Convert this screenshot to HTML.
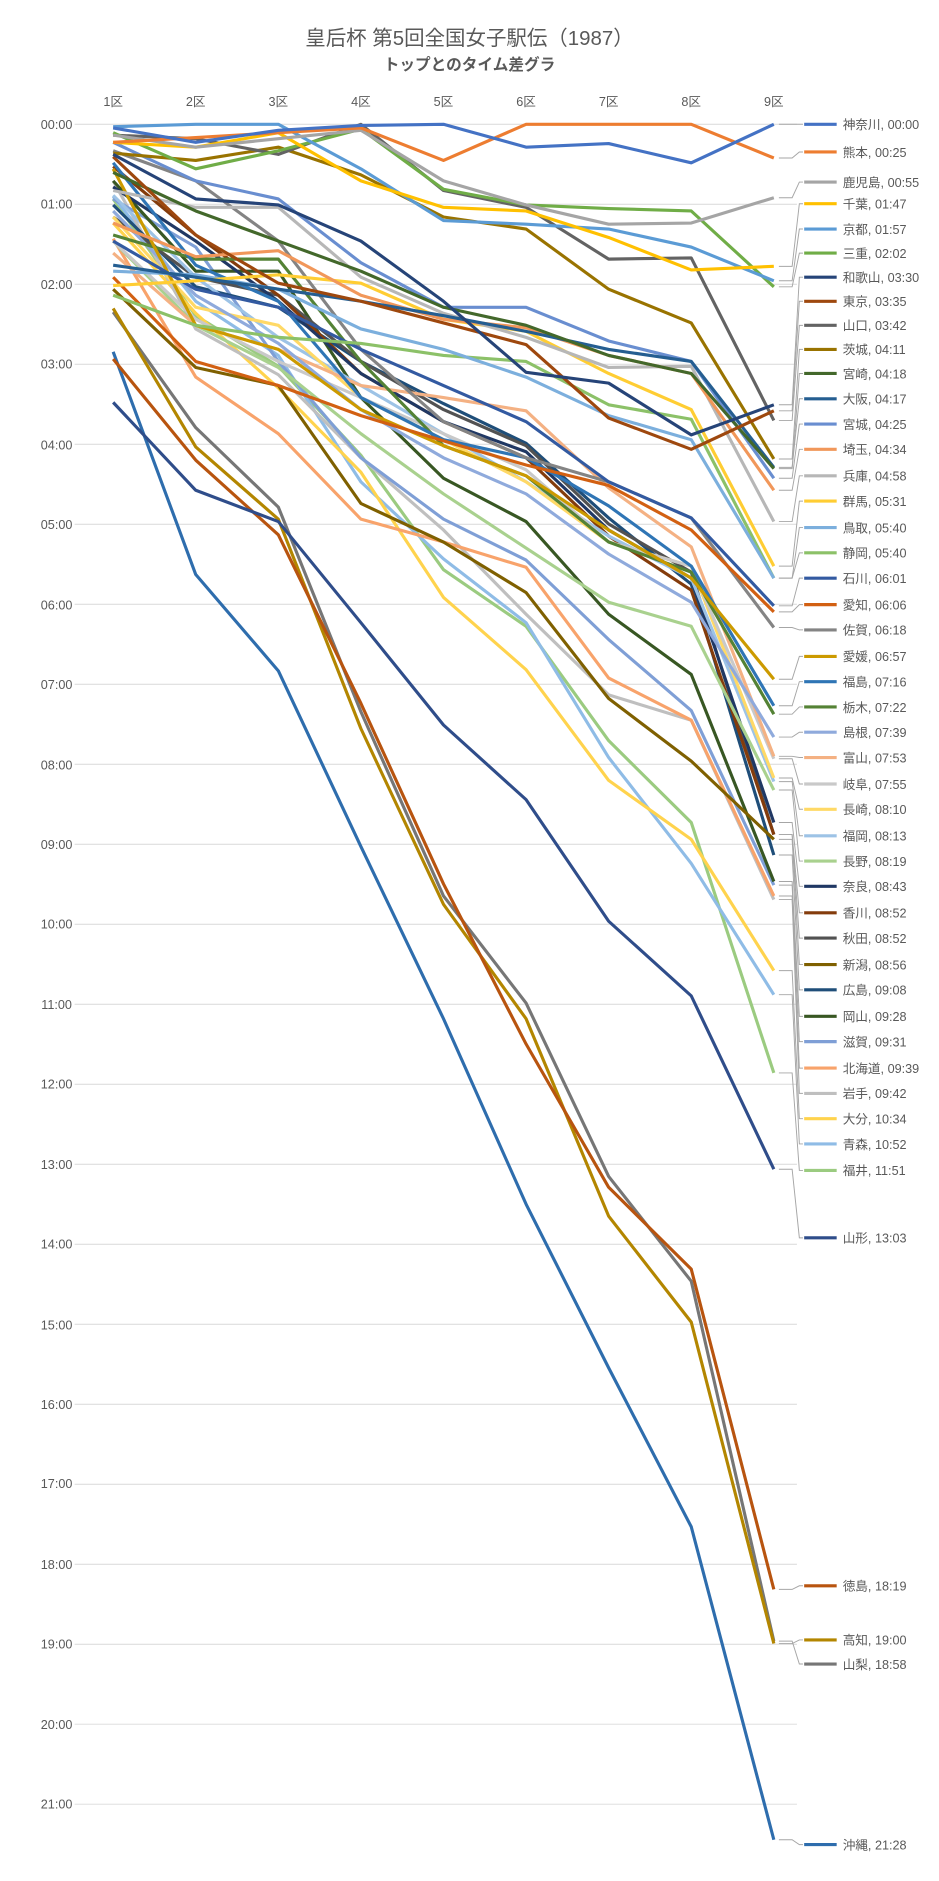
<!DOCTYPE html>
<html><head><meta charset="utf-8">
<style>
html,body{margin:0;padding:0;background:#fff;}
svg{display:block;}
text{font-family:"Liberation Sans","Noto Sans CJK JP",sans-serif;fill:#595959;}
</style></head>
<body>
<svg width="939" height="1881" viewBox="0 0 780 1562" xmlns="http://www.w3.org/2000/svg">
<rect width="780" height="1562" fill="#fff"/>
<text x="390" y="37" font-size="17" text-anchor="middle">皇后杯 第5回全国女子駅伝（1987）</text>
<text x="390" y="58" font-size="13" font-weight="bold" text-anchor="middle">トップとのタイム差グラ</text>
<g stroke="#d9d9d9" stroke-width="0.8">
<line x1="62" x2="662" y1="103" y2="103"/><line x1="62" x2="662" y1="169.45" y2="169.45"/><line x1="62" x2="662" y1="235.9" y2="235.9"/><line x1="62" x2="662" y1="302.35" y2="302.35"/><line x1="62" x2="662" y1="368.8" y2="368.8"/><line x1="62" x2="662" y1="435.25" y2="435.25"/><line x1="62" x2="662" y1="501.7" y2="501.7"/><line x1="62" x2="662" y1="568.15" y2="568.15"/><line x1="62" x2="662" y1="634.6" y2="634.6"/><line x1="62" x2="662" y1="701.05" y2="701.05"/><line x1="62" x2="662" y1="767.5" y2="767.5"/><line x1="62" x2="662" y1="833.95" y2="833.95"/><line x1="62" x2="662" y1="900.4" y2="900.4"/><line x1="62" x2="662" y1="966.85" y2="966.85"/><line x1="62" x2="662" y1="1033.3" y2="1033.3"/><line x1="62" x2="662" y1="1099.75" y2="1099.75"/><line x1="62" x2="662" y1="1166.2" y2="1166.2"/><line x1="62" x2="662" y1="1232.65" y2="1232.65"/><line x1="62" x2="662" y1="1299.1" y2="1299.1"/><line x1="62" x2="662" y1="1365.55" y2="1365.55"/><line x1="62" x2="662" y1="1432" y2="1432"/><line x1="62" x2="662" y1="1498.45" y2="1498.45"/>
</g>
<g font-size="10.5" text-anchor="middle">
<text x="94" y="88">1区</text><text x="162.6" y="88">2区</text><text x="231.2" y="88">3区</text><text x="299.8" y="88">4区</text><text x="368.4" y="88">5区</text><text x="437" y="88">6区</text><text x="505.6" y="88">7区</text><text x="574.2" y="88">8区</text><text x="642.8" y="88">9区</text>
</g>
<g font-size="10.5" text-anchor="middle">
<text x="47" y="107">00:00</text><text x="47" y="173">01:00</text><text x="47" y="240">02:00</text><text x="47" y="306">03:00</text><text x="47" y="373">04:00</text><text x="47" y="439">05:00</text><text x="47" y="506">06:00</text><text x="47" y="572">07:00</text><text x="47" y="639">08:00</text><text x="47" y="705">09:00</text><text x="47" y="771">10:00</text><text x="47" y="838">11:00</text><text x="47" y="904">12:00</text><text x="47" y="971">13:00</text><text x="47" y="1037">14:00</text><text x="47" y="1104">15:00</text><text x="47" y="1170">16:00</text><text x="47" y="1236">17:00</text><text x="47" y="1303">18:00</text><text x="47" y="1369">19:00</text><text x="47" y="1436">20:00</text><text x="47" y="1502">21:00</text>
</g>
<g fill="none" stroke-width="2.6" stroke-linejoin="round">
<polyline stroke="#2E6DAD" points="94,292 162.6,477 231.2,557 299.8,703 368.4,846 437,1000 505.6,1136 574.2,1268 642.8,1528"/>
<polyline stroke="#767676" points="94,259 162.6,355 231.2,421 299.8,591 368.4,744 437,833 505.6,977 574.2,1064 642.8,1363"/>
<polyline stroke="#B38600" points="94,256 162.6,371 231.2,431 299.8,605 368.4,751 437,846 505.6,1010 574.2,1098 642.8,1365"/>
<polyline stroke="#B8540F" points="94,298 162.6,382 231.2,444 299.8,584 368.4,734 437,867 505.6,986 574.2,1054 642.8,1320"/>
<polyline stroke="#2F4D8A" points="94,334 162.6,407 231.2,433 299.8,517 368.4,602 437,664 505.6,765 574.2,827 642.8,971"/>
<polyline stroke="#9BCB80" points="94,165 162.6,262 231.2,304 299.8,378 368.4,473 437,520 505.6,615 574.2,683 642.8,891"/>
<polyline stroke="#8FBCE6" points="94,163 162.6,250 231.2,295 299.8,400 368.4,464 437,517 505.6,629 574.2,717 642.8,826"/>
<polyline stroke="#FFD34D" points="94,185 162.6,260 231.2,322 299.8,392 368.4,496 437,556 505.6,648 574.2,697 642.8,806"/>
<polyline stroke="#BFBFBF" points="94,150 162.6,273 231.2,311 299.8,380 368.4,440 437,510 505.6,577 574.2,598 642.8,747"/>
<polyline stroke="#F8A36B" points="94,198 162.6,313 231.2,360 299.8,431 368.4,450 437,471 505.6,563 574.2,598 642.8,744"/>
<polyline stroke="#7F9FD6" points="94,165 162.6,205 231.2,300 299.8,380 368.4,431 437,465 505.6,531 574.2,590 642.8,735"/>
<polyline stroke="#385723" points="94,150 162.6,225 231.2,225 299.8,330 368.4,397 437,433 505.6,510 574.2,560 642.8,732"/>
<polyline stroke="#1F4E79" points="94,170 162.6,238 231.2,255 299.8,300 368.4,335 437,368 505.6,430 574.2,485 642.8,710"/>
<polyline stroke="#7F6000" points="94,240 162.6,305 231.2,320 299.8,418 368.4,450 437,492 505.6,580 574.2,632 642.8,697"/>
<polyline stroke="#525252" points="94,180 162.6,230 231.2,245 299.8,300 368.4,340 437,370 505.6,435 574.2,475 642.8,693"/>
<polyline stroke="#843C0C" points="94,138 162.6,195 231.2,245 299.8,310 368.4,350 437,380 505.6,445 574.2,490 642.8,693"/>
<polyline stroke="#203864" points="94,155 162.6,200 231.2,250 299.8,310 368.4,350 437,375 505.6,440 574.2,480 642.8,683"/>
<polyline stroke="#A9D18E" points="94,200 162.6,270 231.2,305 299.8,360 368.4,410 437,455 505.6,500 574.2,520 642.8,656"/>
<polyline stroke="#9DC3E6" points="94,162 162.6,230 231.2,280 299.8,320 368.4,360 437,400 505.6,445 574.2,480 642.8,649"/>
<polyline stroke="#FFD966" points="94,180 162.6,255 231.2,270 299.8,330 368.4,365 437,400 505.6,450 574.2,470 642.8,646"/>
<polyline stroke="#C9C9C9" points="94,200 162.6,265 231.2,300 299.8,330 368.4,360 437,390 505.6,450 574.2,470 642.8,630"/>
<polyline stroke="#F4B183" points="94,210 162.6,270 231.2,290 299.8,320 368.4,330 437,341 505.6,405 574.2,454 642.8,628"/>
<polyline stroke="#8FAADC" points="94,175 162.6,245 231.2,285 299.8,340 368.4,380 437,410 505.6,460 574.2,500 642.8,612"/>
<polyline stroke="#548235" points="94,195 162.6,215 231.2,215 299.8,300 368.4,370 437,395 505.6,450 574.2,475 642.8,593"/>
<polyline stroke="#2F75B5" points="94,135 162.6,220 231.2,250 299.8,330 368.4,365 437,380 505.6,420 574.2,470 642.8,586"/>
<polyline stroke="#CC9A00" points="94,140 162.6,270 231.2,290 299.8,340 368.4,370 437,395 505.6,440 574.2,480 642.8,564"/>
<polyline stroke="#848484" points="94,125 162.6,150 231.2,200 299.8,290 368.4,350 437,380 505.6,400 574.2,430 642.8,521"/>
<polyline stroke="#D26012" points="94,230 162.6,300 231.2,320 299.8,345 368.4,366 437,386 505.6,403 574.2,440 642.8,508"/>
<polyline stroke="#335AA1" points="94,200 162.6,240 231.2,255 299.8,290 368.4,320 437,350 505.6,400 574.2,430 642.8,503"/>
<polyline stroke="#8CC168" points="94,245 162.6,270 231.2,280 299.8,285 368.4,295 437,300 505.6,336 574.2,348 642.8,480"/>
<polyline stroke="#7CAFDD" points="94,225 162.6,228 231.2,240 299.8,273 368.4,290 437,313 505.6,345 574.2,365 642.8,480"/>
<polyline stroke="#FFCD33" points="94,237 162.6,233 231.2,228 299.8,235 368.4,265 437,275 505.6,310 574.2,340 642.8,470"/>
<polyline stroke="#B7B7B7" points="94,158 162.6,172 231.2,172 299.8,230 368.4,260 437,280 505.6,305 574.2,304 642.8,433"/>
<polyline stroke="#F1975A" points="94,185 162.6,213 231.2,208 299.8,245 368.4,265 437,272 505.6,295 574.2,310 642.8,407"/>
<polyline stroke="#698ED0" points="94,118 162.6,150 231.2,165 299.8,218 368.4,255 437,255 505.6,283 574.2,300 642.8,397"/>
<polyline stroke="#255E91" points="94,220 162.6,230 231.2,240 299.8,250 368.4,262 437,275 505.6,290 574.2,300 642.8,388"/>
<polyline stroke="#43682B" points="94,143 162.6,175 231.2,200 299.8,225 368.4,255 437,270 505.6,295 574.2,310 642.8,389"/>
<polyline stroke="#997300" points="94,127 162.6,133 231.2,122 299.8,145 368.4,180 437,190 505.6,240 574.2,268 642.8,381"/>
<polyline stroke="#636363" points="94,112 162.6,115 231.2,128 299.8,103 368.4,158 437,172 505.6,215 574.2,214 642.8,349"/>
<polyline stroke="#9E480E" points="94,130 162.6,195 231.2,235 299.8,250 368.4,268 437,286 505.6,347 574.2,373 642.8,341"/>
<polyline stroke="#264478" points="94,128 162.6,165 231.2,170 299.8,200 368.4,250 437,309 505.6,318 574.2,361 642.8,336"/>
<polyline stroke="#70AD47" points="94,110 162.6,140 231.2,125 299.8,107 368.4,157 437,170 505.6,173 574.2,175 642.8,238"/>
<polyline stroke="#5B9BD5" points="94,105 162.6,103 231.2,103 299.8,140 368.4,183 437,186 505.6,190 574.2,205 642.8,233"/>
<polyline stroke="#FFC000" points="94,118 162.6,122 231.2,110 299.8,150 368.4,172 437,175 505.6,197 574.2,224 642.8,221"/>
<polyline stroke="#A5A5A5" points="94,112 162.6,122 231.2,115 299.8,108 368.4,150 437,170 505.6,186 574.2,185 642.8,164"/>
<polyline stroke="#ED7D31" points="94,118 162.6,114 231.2,110 299.8,106 368.4,133 437,103 505.6,103 574.2,103 642.8,131"/>
<polyline stroke="#4472C4" points="94,106 162.6,118 231.2,108 299.8,104 368.4,103 437,122 505.6,119 574.2,135 642.8,103"/>
</g>
<g fill="none" stroke="#a6a6a6" stroke-width="0.8">
<polyline points="647,103 658,103 664,103 667,103"/>
<polyline points="647,131 658,131 664,126 667,126"/>
<polyline points="647,164 658,164 664,151 667,151"/>
<polyline points="647,221 658,221 664,169 667,169"/>
<polyline points="647,233 658,233 664,190 667,190"/>
<polyline points="647,238 658,238 664,210 667,210"/>
<polyline points="647,336 658,336 664,230 667,230"/>
<polyline points="647,341 658,341 664,250 667,250"/>
<polyline points="647,349 658,349 664,270 667,270"/>
<polyline points="647,381 658,381 664,290 667,290"/>
<polyline points="647,389 658,389 664,310 667,310"/>
<polyline points="647,388 658,388 664,331 667,331"/>
<polyline points="647,397 658,397 664,352 667,352"/>
<polyline points="647,407 658,407 664,373 667,373"/>
<polyline points="647,433 658,433 664,395 667,395"/>
<polyline points="647,470 658,470 664,416 667,416"/>
<polyline points="647,480 658,480 664,438 667,438"/>
<polyline points="647,480 658,480 664,459 667,459"/>
<polyline points="647,503 658,503 664,480 667,480"/>
<polyline points="647,508 658,508 664,502 667,502"/>
<polyline points="647,521 658,521 664,523 667,523"/>
<polyline points="647,564 658,564 664,545 667,545"/>
<polyline points="647,586 658,586 664,566 667,566"/>
<polyline points="647,593 658,593 664,587 667,587"/>
<polyline points="647,612 658,612 664,608 667,608"/>
<polyline points="647,628 658,628 664,629 667,629"/>
<polyline points="647,630 658,630 664,651 667,651"/>
<polyline points="647,646 658,646 664,672 667,672"/>
<polyline points="647,649 658,649 664,694 667,694"/>
<polyline points="647,656 658,656 664,715 667,715"/>
<polyline points="647,683 658,683 664,736 667,736"/>
<polyline points="647,693 658,693 664,758 667,758"/>
<polyline points="647,693 658,693 664,779 667,779"/>
<polyline points="647,697 658,697 664,801 667,801"/>
<polyline points="647,710 658,710 664,822 667,822"/>
<polyline points="647,732 658,732 664,844 667,844"/>
<polyline points="647,735 658,735 664,865 667,865"/>
<polyline points="647,744 658,744 664,887 667,887"/>
<polyline points="647,747 658,747 664,908 667,908"/>
<polyline points="647,806 658,806 664,929 667,929"/>
<polyline points="647,826 658,826 664,950 667,950"/>
<polyline points="647,891 658,891 664,972 667,972"/>
<polyline points="647,971 658,971 664,1028 667,1028"/>
<polyline points="647,1320 658,1320 664,1317 667,1317"/>
<polyline points="647,1365 658,1365 664,1362 667,1362"/>
<polyline points="647,1363 658,1363 664,1382 667,1382"/>
<polyline points="647,1528 658,1528 664,1532 667,1532"/>
</g>
<g stroke-width="2.6">
<line x1="668" x2="695" y1="103" y2="103" stroke="#4472C4"/>
<line x1="668" x2="695" y1="126" y2="126" stroke="#ED7D31"/>
<line x1="668" x2="695" y1="151" y2="151" stroke="#A5A5A5"/>
<line x1="668" x2="695" y1="169" y2="169" stroke="#FFC000"/>
<line x1="668" x2="695" y1="190" y2="190" stroke="#5B9BD5"/>
<line x1="668" x2="695" y1="210" y2="210" stroke="#70AD47"/>
<line x1="668" x2="695" y1="230" y2="230" stroke="#264478"/>
<line x1="668" x2="695" y1="250" y2="250" stroke="#9E480E"/>
<line x1="668" x2="695" y1="270" y2="270" stroke="#636363"/>
<line x1="668" x2="695" y1="290" y2="290" stroke="#997300"/>
<line x1="668" x2="695" y1="310" y2="310" stroke="#43682B"/>
<line x1="668" x2="695" y1="331" y2="331" stroke="#255E91"/>
<line x1="668" x2="695" y1="352" y2="352" stroke="#698ED0"/>
<line x1="668" x2="695" y1="373" y2="373" stroke="#F1975A"/>
<line x1="668" x2="695" y1="395" y2="395" stroke="#B7B7B7"/>
<line x1="668" x2="695" y1="416" y2="416" stroke="#FFCD33"/>
<line x1="668" x2="695" y1="438" y2="438" stroke="#7CAFDD"/>
<line x1="668" x2="695" y1="459" y2="459" stroke="#8CC168"/>
<line x1="668" x2="695" y1="480" y2="480" stroke="#335AA1"/>
<line x1="668" x2="695" y1="502" y2="502" stroke="#D26012"/>
<line x1="668" x2="695" y1="523" y2="523" stroke="#848484"/>
<line x1="668" x2="695" y1="545" y2="545" stroke="#CC9A00"/>
<line x1="668" x2="695" y1="566" y2="566" stroke="#2F75B5"/>
<line x1="668" x2="695" y1="587" y2="587" stroke="#548235"/>
<line x1="668" x2="695" y1="608" y2="608" stroke="#8FAADC"/>
<line x1="668" x2="695" y1="629" y2="629" stroke="#F4B183"/>
<line x1="668" x2="695" y1="651" y2="651" stroke="#C9C9C9"/>
<line x1="668" x2="695" y1="672" y2="672" stroke="#FFD966"/>
<line x1="668" x2="695" y1="694" y2="694" stroke="#9DC3E6"/>
<line x1="668" x2="695" y1="715" y2="715" stroke="#A9D18E"/>
<line x1="668" x2="695" y1="736" y2="736" stroke="#203864"/>
<line x1="668" x2="695" y1="758" y2="758" stroke="#843C0C"/>
<line x1="668" x2="695" y1="779" y2="779" stroke="#525252"/>
<line x1="668" x2="695" y1="801" y2="801" stroke="#7F6000"/>
<line x1="668" x2="695" y1="822" y2="822" stroke="#1F4E79"/>
<line x1="668" x2="695" y1="844" y2="844" stroke="#385723"/>
<line x1="668" x2="695" y1="865" y2="865" stroke="#7F9FD6"/>
<line x1="668" x2="695" y1="887" y2="887" stroke="#F8A36B"/>
<line x1="668" x2="695" y1="908" y2="908" stroke="#BFBFBF"/>
<line x1="668" x2="695" y1="929" y2="929" stroke="#FFD34D"/>
<line x1="668" x2="695" y1="950" y2="950" stroke="#8FBCE6"/>
<line x1="668" x2="695" y1="972" y2="972" stroke="#9BCB80"/>
<line x1="668" x2="695" y1="1028" y2="1028" stroke="#2F4D8A"/>
<line x1="668" x2="695" y1="1317" y2="1317" stroke="#B8540F"/>
<line x1="668" x2="695" y1="1362" y2="1362" stroke="#B38600"/>
<line x1="668" x2="695" y1="1382" y2="1382" stroke="#767676"/>
<line x1="668" x2="695" y1="1532" y2="1532" stroke="#2E6DAD"/>
</g>
<g font-size="10.5">
<text x="700" y="107">神奈川, 00:00</text>
<text x="700" y="130">熊本, 00:25</text>
<text x="700" y="155">鹿児島, 00:55</text>
<text x="700" y="173">千葉, 01:47</text>
<text x="700" y="194">京都, 01:57</text>
<text x="700" y="214">三重, 02:02</text>
<text x="700" y="234">和歌山, 03:30</text>
<text x="700" y="254">東京, 03:35</text>
<text x="700" y="274">山口, 03:42</text>
<text x="700" y="294">茨城, 04:11</text>
<text x="700" y="314">宮崎, 04:18</text>
<text x="700" y="335">大阪, 04:17</text>
<text x="700" y="356">宮城, 04:25</text>
<text x="700" y="377">埼玉, 04:34</text>
<text x="700" y="399">兵庫, 04:58</text>
<text x="700" y="420">群馬, 05:31</text>
<text x="700" y="442">鳥取, 05:40</text>
<text x="700" y="463">静岡, 05:40</text>
<text x="700" y="484">石川, 06:01</text>
<text x="700" y="506">愛知, 06:06</text>
<text x="700" y="527">佐賀, 06:18</text>
<text x="700" y="549">愛媛, 06:57</text>
<text x="700" y="570">福島, 07:16</text>
<text x="700" y="591">栃木, 07:22</text>
<text x="700" y="612">島根, 07:39</text>
<text x="700" y="633">富山, 07:53</text>
<text x="700" y="655">岐阜, 07:55</text>
<text x="700" y="676">長崎, 08:10</text>
<text x="700" y="698">福岡, 08:13</text>
<text x="700" y="719">長野, 08:19</text>
<text x="700" y="740">奈良, 08:43</text>
<text x="700" y="762">香川, 08:52</text>
<text x="700" y="783">秋田, 08:52</text>
<text x="700" y="805">新潟, 08:56</text>
<text x="700" y="826">広島, 09:08</text>
<text x="700" y="848">岡山, 09:28</text>
<text x="700" y="869">滋賀, 09:31</text>
<text x="700" y="891">北海道, 09:39</text>
<text x="700" y="912">岩手, 09:42</text>
<text x="700" y="933">大分, 10:34</text>
<text x="700" y="954">青森, 10:52</text>
<text x="700" y="976">福井, 11:51</text>
<text x="700" y="1032">山形, 13:03</text>
<text x="700" y="1321">徳島, 18:19</text>
<text x="700" y="1366">高知, 19:00</text>
<text x="700" y="1386">山梨, 18:58</text>
<text x="700" y="1536">沖縄, 21:28</text>
</g>
</svg>
</body></html>
